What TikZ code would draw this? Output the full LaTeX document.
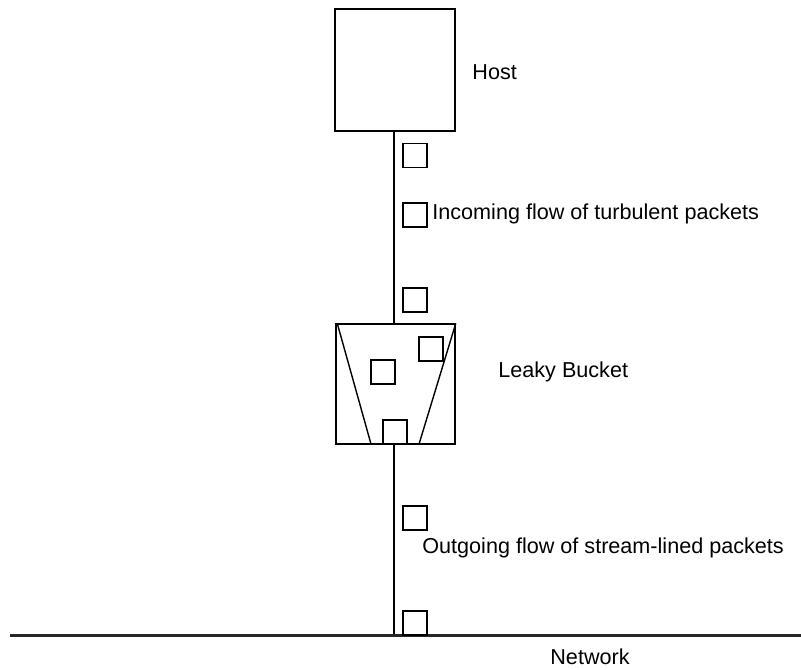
\documentclass[tikz,border=0pt]{standalone}
\usepackage{fontspec}
\setmainfont{Liberation Sans}
\usetikzlibrary{positioning,calc}

\begin{document}
\begin{tikzpicture}[
  x=0.5pt, y=-0.5pt,
  font=\fontsize{10.8}{13}\selectfont,
  box/.style    = {draw, line width=0.8pt, inner sep=0pt},
  hostbox/.style = {box, minimum width=60pt, minimum height=61pt},
  bucketbox/.style = {box, minimum width=59.5pt, minimum height=60pt},
  pkt/.style    = {draw, line width=0.7pt, inner sep=0pt, minimum size=12pt},
  wire/.style   = {line width=0.7pt},
  net/.style    = {line width=1.5pt, black!85},
  tag/.style    = {inner sep=0pt}
]
\useasboundingbox (0,0) rectangle (801,669);

% host and bucket
\node[hostbox] (host) at (395,70) {};
\node[tag, anchor=west] (hostlbl) at (472,72) {Host};

\node[bucketbox] (bucket) at (395.5,384) {};
\node[tag, anchor=west] (bucketlbl) at (498,372) {Leaky Bucket};

\coordinate (netL) at (10,635);
\coordinate (netR) at (801,635);
\coordinate (netJ) at (bucket.south |- netL);

% wires
\draw[wire] (host.south -| 394,0) -- (bucket.north -| 394,0);
\draw[wire] (bucket.south -| 394,0) -- (netJ -| 394,0);
\draw[net] (netL) -- (netR);

% bucket walls
\draw[wire] ($(bucket.north west)+(2,0)$) -- ($(bucket.south west)+(36,0)$);
\draw[wire] (bucket.north east) -- ($(bucket.south east)+(-37,0)$);

% incoming packets
\node[pkt] (in1) at (415,155.5) {};
\node[pkt] (in2) at (415,215) {};
\node[pkt] (in3) at (415,300) {};
\node[tag, anchor=west] (inlbl) at (432,214) {Incoming flow of turbulent packets};

% packets in the bucket
\node[pkt] (b1) at (383,372) {};
\node[pkt] (b2) at (431,349) {};
\node[pkt] (b3) at (395,432) {};

% outgoing packets
\node[pkt] (out1) at (415,518) {};
\node[pkt] (out2) at (415,623) {};
\node[tag, anchor=west] (outlbl) at (422,548) {Outgoing flow of stream-lined packets};

\node[tag] (netlbl) at (590,657) {Network};
\end{tikzpicture}
\end{document}
